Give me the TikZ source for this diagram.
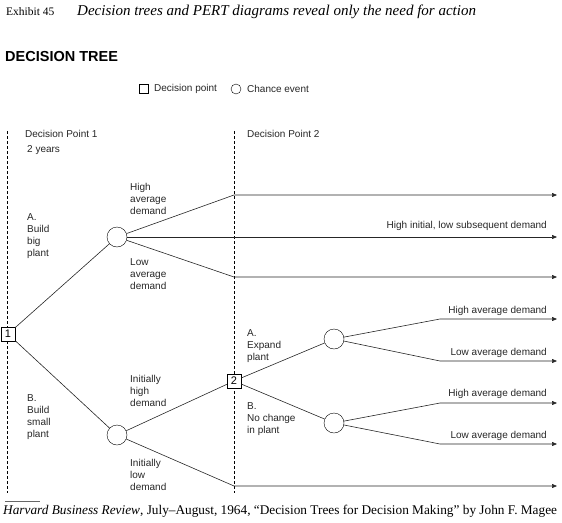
\documentclass[tikz,border=0pt]{standalone}
\usepackage{fontspec}
\setmainfont{Liberation Serif}
\setsansfont{Liberation Sans}
\usetikzlibrary{arrows.meta}
\begin{document}
\begin{tikzpicture}[x=1pt,y=-1pt,
  lbl/.style={font=\sffamily\fontsize{10}{12}\selectfont,inner sep=0pt,align=left,anchor=north west,text=black!85},
  rlbl/.style={font=\sffamily\fontsize{10}{12}\selectfont,inner sep=0pt,anchor=base east,text=black!85},
  dec/.style={draw,minimum size=14pt,inner sep=0pt,font=\sffamily\fontsize{11}{12}\selectfont,fill=white},
  chance/.style={draw,circle,minimum size=20pt,inner sep=0pt,fill=white},
  br/.style={line width=0.6pt,black!85},
  arr/.style={br,-{Triangle[length=5pt,width=4pt]}},
  vdash/.style={dashed,line width=0.5pt,dash pattern=on 3pt off 2pt}]
\useasboundingbox (0,0) rectangle (562,522);
% header
\node[anchor=base west,inner sep=0pt,font=\fontsize{11.5}{13}\selectfont] (exh) at (6,16) {Exhibit 45};
\node[anchor=base west,inner sep=0pt,font=\fontsize{15}{17}\selectfont\itshape] (title) at (77,16) {Decision trees and PERT diagrams reveal only the need for action};
\node[anchor=base west,inner sep=0pt,font=\sffamily\bfseries\fontsize{14.5}{16}\selectfont] (head) at (5,61) {DECISION TREE};
% legend
\node[draw,minimum size=9pt,inner sep=0pt] (lsq) at (143.5,88.5) {};
\node[lbl,anchor=west] (lsqt) at (154,89) {Decision point};
\node[draw,circle,minimum size=10pt,inner sep=0pt] (lci) at (236,89) {};
\node[lbl,anchor=west] (lcit) at (247,89) {Chance event};
% dashed lines
\coordinate (v1t) at (7,131); \coordinate (v1b) at (7,493);
\coordinate (v2t) at (234,131); \coordinate (v2b) at (234,493);
\draw[vdash] (v1t) -- (v1b);
\draw[vdash] (v2t) -- (v2b);
\node[lbl] (dp1) at (25,130.5) {Decision Point 1};
\node[lbl] (yrs) at (27,145.5) {2 years};
\node[lbl] (dp2) at (247,130.5) {Decision Point 2};
% nodes
\node[dec] (d1) at (8,334) {1};
\node[chance] (cA) at (117,237) {};
\node[chance] (cB) at (117,435) {};
\node[dec] (d2) at (234,381) {2};
\node[chance] (cC) at (334,339) {};
\node[chance] (cD) at (334,423) {};
% coordinates
\coordinate (a1) at (234,195); \coordinate (a1e) at (557,195);
\coordinate (a2e) at (557,237);
\coordinate (a3) at (234,277); \coordinate (a3e) at (557,277);
\coordinate (b2) at (234,486); \coordinate (b2e) at (557,486);
\coordinate (c1) at (440,319); \coordinate (c1e) at (557,319);
\coordinate (c2) at (440,361); \coordinate (c2e) at (557,361);
\coordinate (e1) at (440,403); \coordinate (e1e) at (557,403);
\coordinate (e2) at (440,444); \coordinate (e2e) at (557,444);
% branches
\draw[br] (d1) -- (cA);
\draw[br] (d1) -- (cB);
\draw[arr] (cA) -- (a1) -- (a1e);
\draw[arr] (cA) -- (a2e);
\draw[arr] (cA) -- (a3) -- (a3e);
\draw[br] (cB) -- (d2);
\draw[arr] (cB) -- (b2) -- (b2e);
\draw[br] (d2) -- (cC);
\draw[br] (d2) -- (cD);
\draw[arr] (cC) -- (c1) -- (c1e);
\draw[arr] (cC) -- (c2) -- (c2e);
\draw[arr] (cD) -- (e1) -- (e1e);
\draw[arr] (cD) -- (e2) -- (e2e);
% labels
\node[lbl] (lA) at (27,213.5) {A.\\Build\\big\\plant};
\node[lbl] (lHA) at (130,183.5) {High\\average\\demand};
\node[lbl] (lLA) at (130,258.5) {Low\\average\\demand};
\node[lbl] (lB) at (27,394.5) {B.\\Build\\small\\plant};
\node[lbl] (lIH) at (130,375.5) {Initially\\high\\demand};
\node[lbl] (lIL) at (130,459.5) {Initially\\low\\demand};
\node[lbl] (lEx) at (247,329.5) {A.\\Expand\\plant};
\node[lbl] (lNc) at (247,402.5) {B.\\No change\\in plant};
\node[rlbl] (rHI) at (547,228.5) {High initial, low subsequent demand};
\node[rlbl] (r1) at (547,313.5) {High average demand};
\node[rlbl] (r2) at (547,355.5) {Low average demand};
\node[rlbl] (r3) at (547,396.5) {High average demand};
\node[rlbl] (r4) at (547,438.5) {Low average demand};
% caption
\coordinate (rl1) at (5,501); \coordinate (rl2) at (40,501);
\draw[line width=0.4pt,black!60] (rl1) -- (rl2);
\node[anchor=base west,inner sep=0pt,font=\fontsize{13.3}{15}\selectfont] (cap) at (3,514) {\textit{Harvard Business Review}, July--August, 1964, ``Decision Trees for Decision Making'' by John F. Magee};
\end{tikzpicture}
\end{document}
